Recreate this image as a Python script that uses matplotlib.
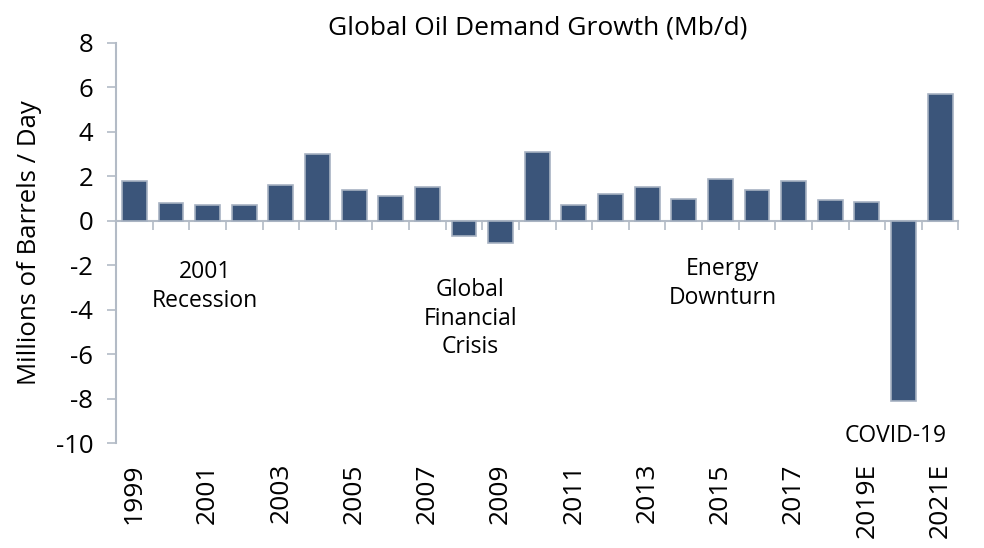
import numpy as np
import matplotlib
matplotlib.use("Agg")
import matplotlib.pyplot as plt
import matplotlib.transforms as mtransforms

plt.rcParams['font.family'] = ['Open Sans', 'DejaVu Sans']
plt.rcParams['axes.unicode_minus'] = False

years = ['1999', '2000', '2001', '2002', '2003', '2004', '2005', '2006',
         '2007', '2008', '2009', '2010', '2011', '2012', '2013', '2014',
         '2015', '2016', '2017', '2018', '2019E', '2020E', '2021E']
growth = [1.8, 0.8, 0.7, 0.7, 1.6, 3.0, 1.4, 1.1, 1.5, -0.7, -1.0, 3.1,
          0.7, 1.2, 1.5, 1.0, 1.9, 1.4, 1.8, 0.95, 0.85, -8.1, 5.7]
yticks = [8, 6, 4, 2, 0, -2, -4, -6, -8, -10]

bar_color = '#3B557A'
edge_color = '#A7B2C2'
axis_color = '#B3BBC6'

fig = plt.figure(figsize=(9.84, 5.48), dpi=100)
ax = fig.add_axes([0.118, 0.1916, 0.856, 0.73])

x = np.arange(len(years))
ax.bar(x, growth, width=0.68, color=bar_color, edgecolor=edge_color, linewidth=1.2, zorder=3)

ax.set_xlim(-0.5, len(years) - 0.5)
ax.set_ylim(-10, 8)

# y axis
ax.set_yticks(yticks)
ax.set_yticklabels([str(v) for v in yticks])
ax.tick_params(axis='y', length=6.5, width=1.2, color=axis_color, pad=10, labelsize=18.5)
ax.spines['left'].set_color(axis_color)
ax.spines['left'].set_linewidth(1.5)
for s in ['top', 'right']:
    ax.spines[s].set_visible(False)
ax.set_ylabel('Millions of Barrels / Day', fontsize=18.5, labelpad=10)

# zero line with ticks between categories
ax.spines['bottom'].set_position(('data', 0))
ax.spines['bottom'].set_color(axis_color)
ax.spines['bottom'].set_linewidth(1.5)
ax.set_xticks(x + 0.5)
ax.set_xticklabels([])
ax.tick_params(axis='x', length=6.5, width=1.2, color=axis_color)

# year labels under the plot, every other year
lab_tr = ax.get_xaxis_transform() + mtransforms.ScaledTranslation(0, -0.2, fig.dpi_scale_trans)
for i in x[::2]:
    ax.text(i, 0, years[i], rotation=90, ha='center', va='top',
            fontsize=19, transform=lab_tr)

# annotations
ann = dict(ha='center', va='center', fontsize=16.5, linespacing=1.25)
ax.text(1.93, -2.95, '2001\nRecession', **ann)
ax.text(9.17, -4.4, 'Global\nFinancial\nCrisis', **ann)
ax.text(16.06, -2.82, 'Energy\nDownturn', **ann)
ax.text(20.78, -9.68, 'COVID-19', **ann)

fig.text(538 / 984, 1 - 28 / 548, 'Global Oil Demand Growth (Mb/d)',
         ha='center', va='center', fontsize=19)

fig.savefig('out.png', dpi=100)
